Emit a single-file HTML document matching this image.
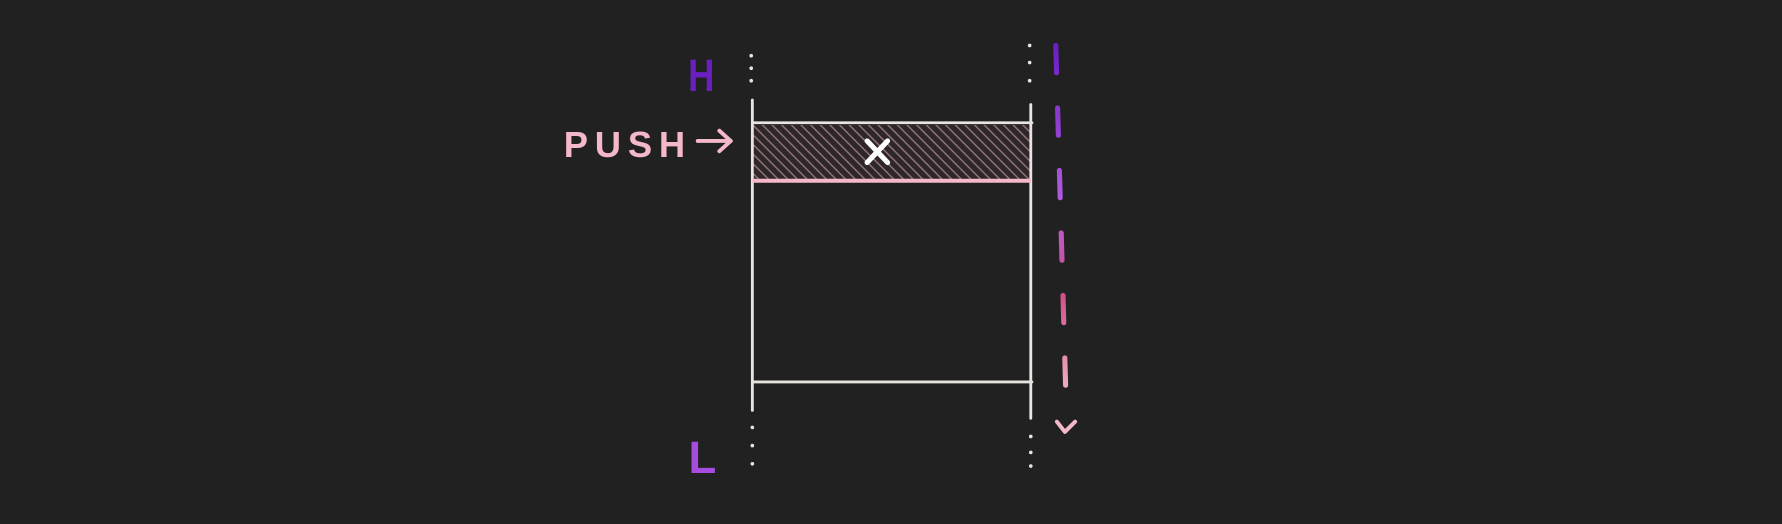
<!DOCTYPE html>
<html><head><meta charset="utf-8"><style>
html,body{margin:0;padding:0;background:#212121;overflow:hidden}
svg{display:block}
</style></head><body>
<svg width="1782" height="524" viewBox="0 0 1568 461" preserveAspectRatio="none" xmlns="http://www.w3.org/2000/svg">
<defs>
<pattern id="hatch" width="6" height="6" patternUnits="userSpaceOnUse" patternTransform="rotate(-45)">
<rect width="6" height="6" fill="#2e2729"/>
<line x1="0" y1="0" x2="0" y2="6" stroke="#907278" stroke-width="2.6"/>
</pattern>
<linearGradient id="dashgrad" x1="0" y1="0" x2="0" y2="1">
<stop offset="0" stop-color="#6a1fc0"/>
<stop offset="0.45" stop-color="#b45de0"/>
<stop offset="0.7" stop-color="#d0508a"/>
<stop offset="1" stop-color="#f4b8c8"/>
</linearGradient>
</defs>
<rect width="1568" height="461" fill="#212121"/>
<rect x="663" y="110" width="244" height="48" fill="url(#hatch)"/>
<path d="M763 124 L781 143 M781 124 L763 143" stroke="#ffffff" stroke-width="4.5" stroke-linecap="round"/>
<g stroke="#e8e4e0" stroke-width="2.5" stroke-linecap="round" fill="none">
<line x1="662" y1="88" x2="662" y2="361"/>
<line x1="907" y1="92" x2="907" y2="368"/>
<line x1="662" y1="108" x2="908" y2="108"/>
<line x1="662" y1="336" x2="908" y2="336"/>
</g>
<line x1="662" y1="159" x2="907" y2="159" stroke="#f4b8c8" stroke-width="3.5"/>
<g fill="#e8e4e0">
<circle cx="661" cy="49" r="1.6"/><circle cx="661" cy="60" r="1.6"/><circle cx="661" cy="71" r="1.6"/>
<circle cx="662" cy="376" r="1.6"/><circle cx="662" cy="392" r="1.6"/><circle cx="662" cy="408" r="1.6"/>
<circle cx="906" cy="40" r="1.6"/><circle cx="906" cy="55" r="1.6"/><circle cx="906" cy="71" r="1.6"/>
<circle cx="907" cy="384" r="1.6"/><circle cx="907" cy="398" r="1.6"/><circle cx="907" cy="410" r="1.6"/>
</g>
<g stroke="url(#dashgrad)" stroke-width="4.5" stroke-linecap="round" fill="none">
<path d="M929 40 L938 352" stroke-dasharray="24 31"/>
</g>
<path d="M930 371 L937 380 L946 371" stroke="#f4b8c8" stroke-width="3.5" fill="none" stroke-linecap="round" stroke-linejoin="round"/>
<text x="617" y="80" fill="#6a1fc0" font-family="Liberation Sans, sans-serif" font-size="40" font-weight="bold" text-anchor="middle" transform="translate(617 0) scale(0.8 1) translate(-617 0)">H</text>
<text x="618" y="416" fill="#a64de0" font-family="Liberation Sans, sans-serif" font-size="40" font-weight="bold" text-anchor="middle">L</text>
<text x="496" y="138" fill="#f4b8c8" font-family="Liberation Sans, sans-serif" font-size="32" font-weight="bold" letter-spacing="6">PUSH</text>
<path d="M614 124 L643 124 M633 115 L643 124 L633 133" stroke="#f4b8c8" stroke-width="3.5" fill="none" stroke-linecap="round" stroke-linejoin="round"/>
</svg>
</body></html>
